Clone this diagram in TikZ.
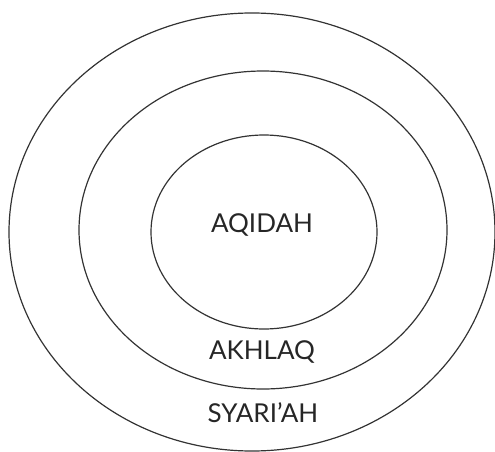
\documentclass[tikz,border=0pt]{standalone}
\usepackage{fontspec}
\setmainfont{Lato}
\begin{document}
\begin{tikzpicture}[x=1pt,y=-1pt,
  ring/.style={draw=black!80,line width=1.2pt},
  lbl/.style={font=\fontsize{26}{30}\selectfont,text=black!85,inner sep=0pt}]
\useasboundingbox (0,0) rectangle (495,452);
\draw[ring] (252,232) ellipse [x radius=243, y radius=219];
\draw[ring] (263,230) ellipse [x radius=184, y radius=159];
\draw[ring] (264,232) ellipse [x radius=113, y radius=97];
\node[lbl] (aqidah) at (262,225) {AQIDAH};
\node[lbl] (akhlaq) at (262,352) {AKHLAQ};
\node[lbl] (syariah) at (263,413) {SYARI’AH};
\end{tikzpicture}
\end{document}
